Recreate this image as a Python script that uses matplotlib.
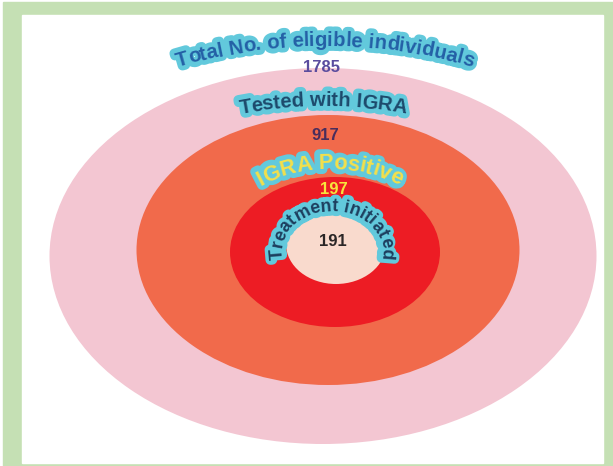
import numpy as np
import matplotlib
matplotlib.use("Agg")
import matplotlib.pyplot as plt
from matplotlib.patches import Ellipse, Rectangle
from matplotlib.font_manager import FontProperties
from matplotlib.textpath import text_to_path
import matplotlib.patheffects as pe

# nested groups, outermost first
stages = ["Total No. of eligible individuals", "Tested with IGRA",
          "IGRA Positive", "Treatment initiated"]
counts = [1785, 917, 197, 191]

ring_colors = ["#f3c6d2", "#f16a4b", "#ed1c24", "#f9dacd"]
label_colors = ["#2460a6", "#1d4a6c", "#f4e04a", "#1d3e5e"]
count_colors = ["#5a4c9e", "#4a2d5c", "#f7e43c", "#2b2626"]

# ellipse geometry in pixels (cx, cy, width, height)
rings = [(323, 256, 547, 376), (328, 250, 383, 270),
         (335, 252, 210, 150), (336, 244, 100, 80)]
# label arcs: (cx, cy, a, b, text length in px)
arcs = [(325, 246, 330, 200, 298), (323, 256, 260, 150, 166),
        (330, 244, 110, 75, 144), (332, 251, 50, 40, 158)]
count_pos = [(321, 68), (325, 135), (334, 189), (333, 241)]

DPI = 100
fig = plt.figure(figsize=(6.13, 4.66), dpi=DPI)
ax = fig.add_axes([0, 0, 1, 1])
ax.set_xlim(0, 613)
ax.set_ylim(466, 0)
ax.axis("off")

# green frame
ax.add_patch(Rectangle((3, 2), 620, 470, color="#c5e0b4", zorder=0))
ax.add_patch(Rectangle((22, 15), 581, 448, color="white", zorder=0))

for (cx, cy, w, h), c in zip(rings, ring_colors):
    ax.add_patch(Ellipse((cx, cy), w, h, color=c, lw=0, zorder=1))

fp = FontProperties(family=["Liberation Sans", "DejaVu Sans"], weight="bold", size=10)


def tw(s, size):
    p = fp.copy()
    p.set_size(size)
    w, _, _ = text_to_path.get_text_width_height_descent("|" + s + "|", p, ismath=False)
    w0, _, _ = text_to_path.get_text_width_height_descent("||", p, ismath=False)
    return (w - w0) * DPI / 72


def arc_text(text, cx, cy, a, b, length, color, edge, lw):
    size = 10 * length / tw(text, 10)
    phi = np.linspace(-np.pi, np.pi, 4001)
    xs = cx + a * np.sin(phi)
    ys = cy - b * np.cos(phi)
    s = np.concatenate([[0], np.cumsum(np.hypot(np.diff(xs), np.diff(ys)))])
    s -= np.interp(0, phi, s)
    total = tw(text, size)
    for i, ch in enumerate(text):
        mid = tw(text[:i], size) + tw(ch, size) / 2 - total / 2
        p = np.interp(mid, s, phi)
        x = cx + a * np.sin(p)
        y = cy - b * np.cos(p)
        rot = np.degrees(np.arctan2(-b * np.sin(p), a * np.cos(p)))
        kw = dict(fontproperties=fp, size=size, ha="center", va="baseline",
                  rotation=rot, rotation_mode="anchor")
        # outline pass below, fill pass on top
        ax.text(x, y, ch, color=edge, zorder=3,
                path_effects=[pe.withStroke(linewidth=lw, foreground=edge)], **kw)
        ax.text(x, y, ch, color=color, zorder=4, **kw)


for lab, (cx, cy, a, b, L), c in zip(stages, arcs, label_colors):
    arc_text(lab, cx, cy, a, b, L, c, "#62c9dc", 7)

for n, (x, y), c in zip(counts, count_pos, count_colors):
    ax.text(x, y, str(n), fontproperties=fp, size=12, color=c,
            ha="center", va="center", zorder=5)

fig.savefig("out.png", dpi=DPI)
